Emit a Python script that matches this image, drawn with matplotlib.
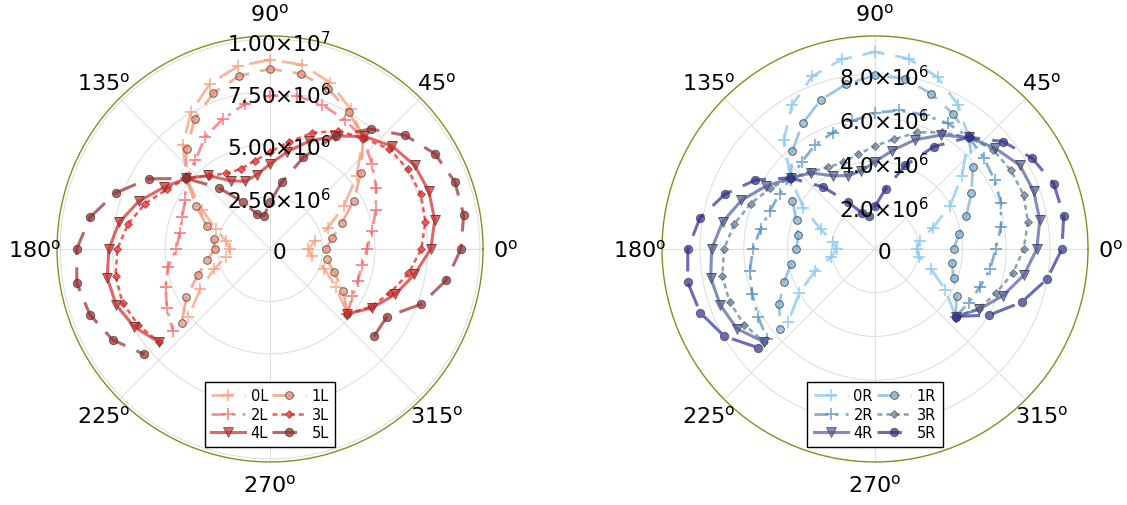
import numpy as np
import matplotlib.pyplot as plt

# sampling angles (degrees), shared by every curve
theta_deg = [-40, -30, -20, -10, 0, 10, 20, 30, 40, 50, 60, 70, 80, 90, 100,
             110, 120, 130, 140, 150, 160, 170, 180, 190, 200, 210, 220]

# left panel, values in units of 1e6
r0L = [4.81, 3.62, 2.76, 2.03, 1.83, 2.18, 2.92, 4.06, 5.38, 6.90, 7.68, 8.42, 8.91, 9.02,
       8.84, 8.38, 7.53, 6.46, 5.18, 3.76, 2.74, 2.13, 1.90, 2.13, 2.84, 3.86, 5.08]
r1L = [4.81, 4.03, 3.25, 2.74, 2.67, 3.01, 3.65, 4.61, 5.66, 6.90, 7.53, 8.12, 8.48, 8.58,
       8.38, 7.90, 7.17, 6.19, 5.23, 4.05, 3.20, 2.73, 2.64, 3.03, 3.67, 4.60, 5.50]
r2L = [4.81, 4.53, 4.46, 4.44, 4.62, 4.93, 5.36, 5.84, 6.33, 6.90, 7.11, 7.31, 7.41, 7.31,
       7.00, 6.59, 6.17, 5.53, 5.23, 4.67, 4.45, 4.38, 4.47, 4.93, 5.30, 5.67, 6.05]
r3L = [4.81, 5.53, 6.10, 6.70, 7.21, 7.52, 7.64, 7.59, 7.41, 6.90, 6.50, 5.89, 5.18, 4.62,
       4.26, 4.06, 4.16, 4.55, 5.23, 5.68, 6.33, 6.87, 7.28, 7.47, 7.48, 7.25, 6.90]
r4L = [4.81, 5.61, 6.34, 6.99, 7.66, 7.97, 8.05, 7.96, 7.61, 7.00, 6.22, 5.47, 4.70, 4.05,
       3.59, 3.43, 3.75, 4.57, 5.23, 5.86, 6.65, 7.30, 7.68, 7.88, 7.80, 7.46, 6.90]
r5L = [6.47, 6.44, 7.68, 8.53, 9.10, 9.37, 9.37, 9.07, 8.42, 7.46, 6.24, 4.64, 3.23, 2.23,
       1.61, 1.76, 2.58, 3.81, 5.23, 6.68, 7.82, 8.71, 9.21, 9.35, 9.14, 8.66, 7.82]

# right panel, values in units of 1e6
r0R = [4.81, 3.71, 2.74, 2.05, 1.90, 2.08, 2.81, 3.96, 5.19, 6.67, 7.60, 8.36, 8.84, 9.01,
       8.80, 8.40, 7.59, 6.49, 5.04, 3.79, 2.65, 1.95, 1.75, 2.02, 2.90, 3.99, 5.18]
r1R = [4.81, 4.31, 3.82, 3.58, 3.59, 3.91, 4.44, 5.09, 5.84, 6.67, 7.14, 7.54, 7.91, 7.94,
       7.65, 7.25, 6.63, 5.87, 5.04, 4.36, 3.82, 3.57, 3.59, 3.89, 4.43, 5.06, 5.67]
r2R = [4.81, 4.94, 5.10, 5.34, 5.52, 5.85, 6.13, 6.31, 6.49, 6.67, 6.64, 6.53, 6.43, 6.23,
       5.94, 5.66, 5.49, 5.20, 5.04, 5.04, 5.11, 5.31, 5.59, 5.81, 5.98, 6.18, 6.43]
r3R = [4.81, 5.47, 5.89, 6.40, 6.80, 7.10, 7.23, 7.18, 7.05, 6.67, 6.15, 5.68, 5.10, 4.71,
       4.40, 4.22, 4.31, 4.60, 5.04, 5.54, 6.05, 6.54, 6.90, 7.09, 7.08, 6.91, 6.62]
r4R = [4.81, 5.51, 6.23, 6.91, 7.40, 7.65, 7.72, 7.65, 7.17, 6.67, 6.01, 5.31, 4.57, 3.99,
       3.62, 3.57, 3.86, 4.54, 5.04, 5.75, 6.50, 7.08, 7.47, 7.63, 7.52, 7.29, 6.62]
r5R = [4.81, 6.04, 7.13, 7.98, 8.55, 8.76, 8.70, 8.30, 7.64, 6.67, 5.41, 4.07, 2.80, 1.95,
       1.55, 1.76, 2.47, 3.70, 5.06, 6.31, 7.31, 8.13, 8.56, 8.70, 8.51, 7.97, 7.01]

labels_L = ['0L', '1L', '2L', '3L', '4L', '5L']
labels_R = ['0R', '1R', '2R', '3R', '4R', '5R']

ticks_L = [0, 2.5e6, 5.0e6, 7.5e6, 1.0e7]
ticklabels_L = ['0', r'2.50$\times10^{6}$', r'5.00$\times10^{6}$', r'7.50$\times10^{6}$', r'1.00$\times10^{7}$']
ticks_R = [0, 2.0e6, 4.0e6, 6.0e6, 8.0e6]
ticklabels_R = ['0', r'2.0$\times10^{6}$', r'4.0$\times10^{6}$', r'6.0$\times10^{6}$', r'8.0$\times10^{6}$']

edge = '#3a3a3a'
styles_L = [
    dict(color='#f99f80', alpha=0.75, lw=2.0, ls=(0, (8, 4)), marker='+', ms=8, mew=1.3),
    dict(color='#ee9275', alpha=0.75, lw=2.0, ls=(0, (8, 4)), marker='o', ms=5.5, mec=edge, mew=0.7),
    dict(color='#f46262', alpha=0.7, lw=2.0, ls=(0, (5, 2.5, 1.2, 2.5)), marker='+', ms=8, mew=1.3),
    dict(color='#f23030', alpha=0.8, lw=1.8, ls=(0, (2, 1.5)), marker='D', ms=4.2, mec='#8a2020', mew=0.5),
    dict(color='#d42c2c', alpha=0.72, lw=2.2, ls='-', marker='v', ms=6.5, mec=edge, mew=0.6),
    dict(color='#9a2e2e', alpha=0.72, lw=2.2, ls=(0, (8, 4)), marker='o', ms=6, mec=edge, mew=0.7),
]
styles_R = [
    dict(color='#8ecbf2', alpha=0.8, lw=2.0, ls=(0, (8, 4)), marker='+', ms=8, mew=1.3),
    dict(color='#86b8dc', alpha=0.8, lw=2.0, ls=(0, (8, 4)), marker='o', ms=5.5, mec=edge, mew=0.7),
    dict(color='#4f8cc2', alpha=0.7, lw=2.0, ls=(0, (5, 2.5, 1.2, 2.5)), marker='+', ms=8, mew=1.3),
    dict(color='#6f8aa2', alpha=0.8, lw=1.8, ls=(0, (2, 1.5)), marker='D', ms=4.2, mec='#3a4a5a', mew=0.5),
    dict(color='#53609f', alpha=0.72, lw=2.2, ls='-', marker='v', ms=6.5, mec=edge, mew=0.6),
    dict(color='#2e2e98', alpha=0.7, lw=2.2, ls=(0, (8, 4)), marker='o', ms=6, mec=edge, mew=0.7),
]


def polar_panel(ax, series, labels, styles, rmax, ticks, ticklabels):
    th = np.deg2rad(theta_deg)
    lines = []
    for r, lab, st in zip(series, labels, styles):
        ln, = ax.plot(th, np.array(r) * 1e6, label=lab, **st)
        lines.append(ln)
    ax.set_ylim(0, rmax)
    ax.set_yticks(ticks)
    ax.set_yticklabels([])
    ax.set_xticks(np.deg2rad(np.arange(0, 360, 45)))
    ax.set_xticklabels([])
    ax.grid(True, color='#e0e0e0', lw=0.8)
    ax.spines['polar'].set_color('#8c8c1c')
    ax.spines['polar'].set_linewidth(1.0)
    ax.tick_params(length=0)
    # angle labels outside the frame
    for a in range(0, 360, 45):
        ax.text(np.deg2rad(a), rmax * 1.105, f'{a}' + r'$^{\mathrm{o}}$',
                ha='center', va='center', fontsize=16)
    # radial labels along the 90 degree spoke
    for t, s in zip(ticks, ticklabels):
        ax.annotate(s, xy=(np.pi / 2, t), xytext=(9, -3), textcoords='offset pixels',
                    ha='center', va='center', fontsize=15.5, zorder=5)
    order = [0, 2, 4, 1, 3, 5]
    leg = ax.legend([lines[i] for i in order], [labels[i] for i in order],
                    ncol=2, loc='lower center', bbox_to_anchor=(0.5, 0.035),
                    fontsize=10.5, handlelength=2.3, handletextpad=0.4,
                    columnspacing=0.3, labelspacing=0.25, borderpad=0.45,
                    borderaxespad=0, fancybox=False, framealpha=1)
    leg.get_frame().set_edgecolor('black')
    leg.get_frame().set_linewidth(1.0)


fig = plt.figure(figsize=(11.27, 5.06), dpi=100)
axL = fig.add_axes([0.0506, 0.083, 0.378, 0.846], projection='polar')
axR = fig.add_axes([0.5874, 0.083, 0.378, 0.846], projection='polar')

polar_panel(axL, [r0L, r1L, r2L, r3L, r4L, r5L], labels_L, styles_L, 1.015e7, ticks_L, ticklabels_L)
polar_panel(axR, [r0R, r1R, r2R, r3R, r4R, r5R], labels_R, styles_R, 9.74e6, ticks_R, ticklabels_R)

fig.savefig('out.png', dpi=100)
